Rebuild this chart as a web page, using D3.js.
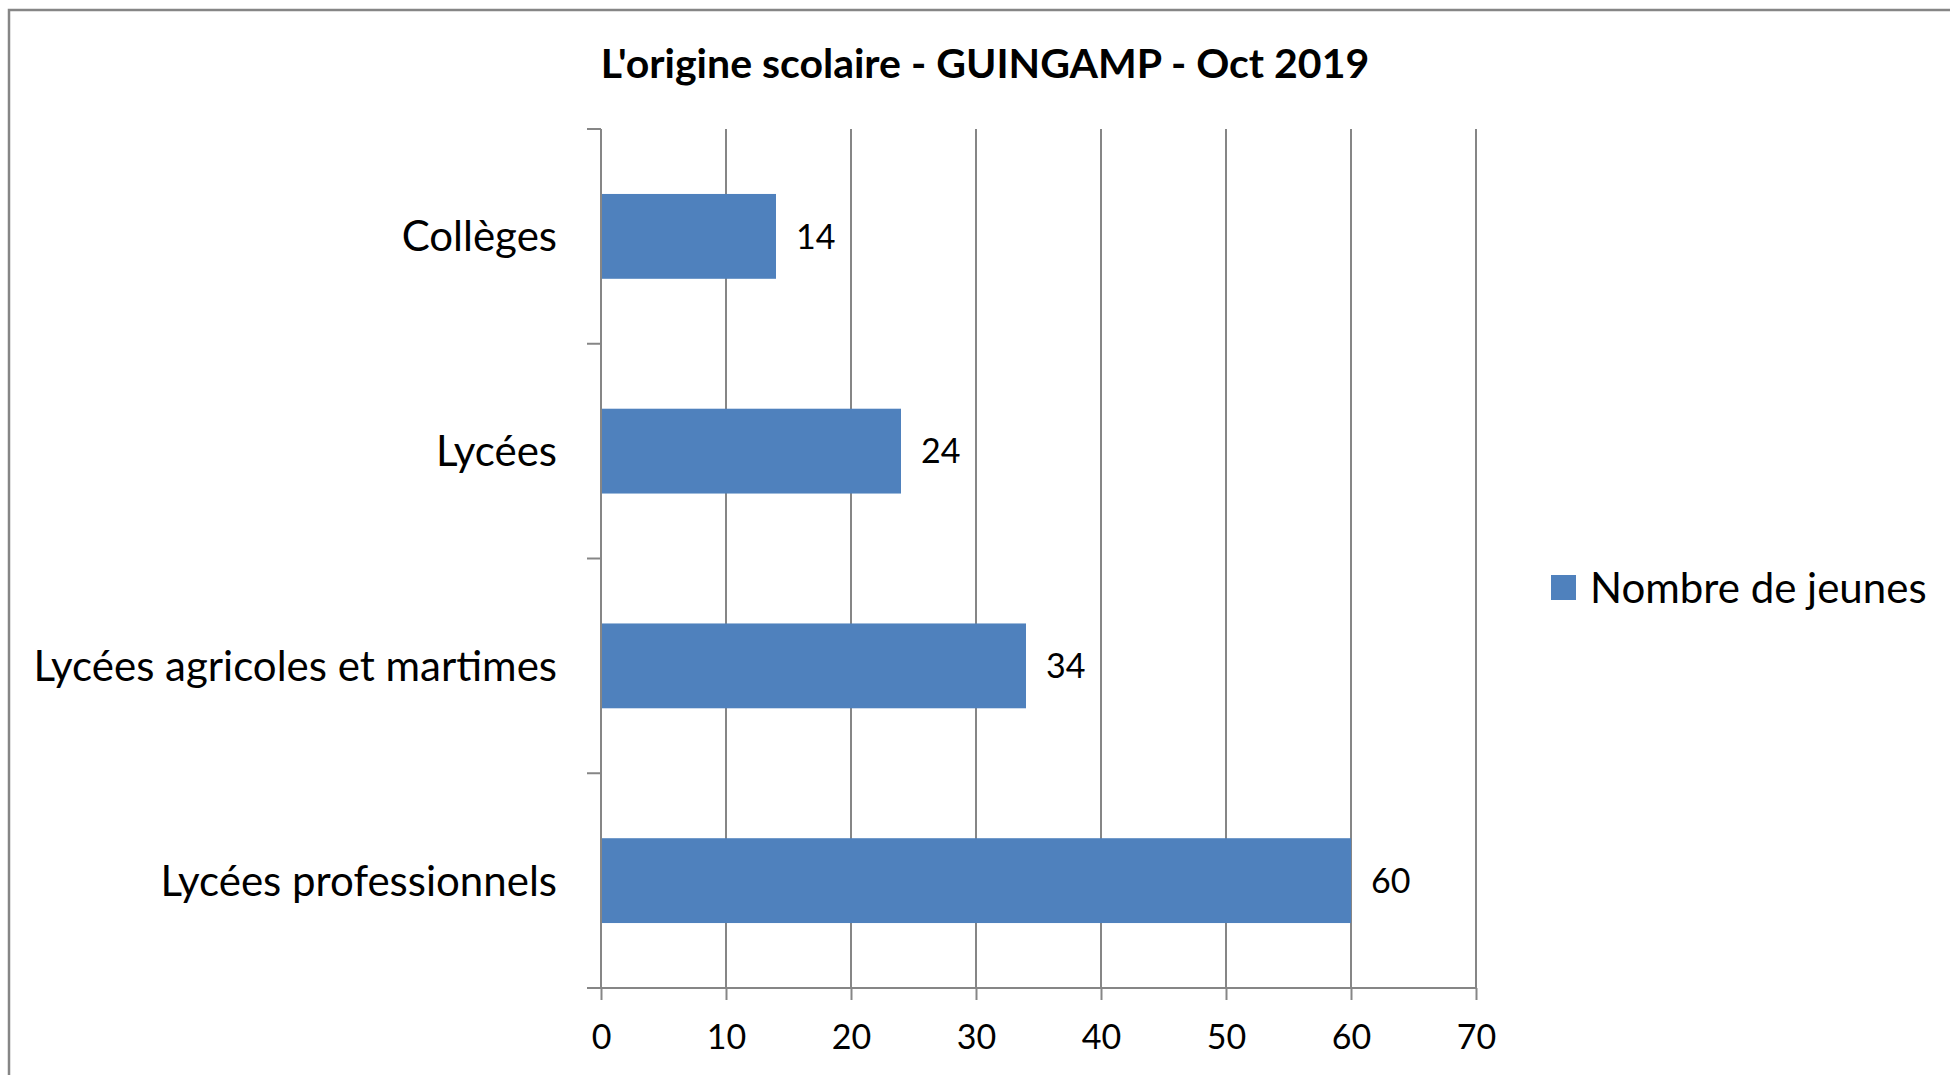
<!DOCTYPE html>
<html>
<head>
<meta charset="utf-8">
<script src="https://cdn.jsdelivr.net/npm/d3@7"></script>
<style>
  body { margin: 0; background: #fff; }
  svg text { font-family: Lato, "Open Sans", sans-serif; fill: #000; }
</style>
</head>
<body>
<svg id="chart" width="1950" height="1075"></svg>
<script>
// data
const categories = ["Collèges", "Lycées", "Lycées agricoles et martimes", "Lycées professionnels"];
const values = [14, 24, 34, 60];
const xTicks = [0, 10, 20, 30, 40, 50, 60, 70];
const seriesName = "Nombre de jeunes";
const title = "L'origine scolaire - GUINGAMP - Oct 2019";

const W = 1950, H = 1075;
const plot = {left: 601, right: 1476, top: 129, bottom: 988};
const barColor = "#4f81bd";
const lineColor = "#868686";

let svg = d3.select("#chart");

// frame (only top and left edges show)
svg.append("rect")
  .attr("x", 9).attr("y", 10)
  .attr("width", W + 20).attr("height", H + 20)
  .attr("fill", "#fff")
  .attr("stroke", lineColor)
  .attr("stroke-width", 2.5);

let x = d3.scaleLinear().domain([0, 70]).range([plot.left, plot.right]);
let y = d3.scaleBand().domain(categories).range([plot.top, plot.bottom]).paddingInner(0.605).paddingOuter(0.3025);
let band = d3.scaleBand().domain(categories).range([plot.top, plot.bottom]);

// vertical gridlines
svg.append("g")
  .selectAll("line")
  .data(xTicks.slice(1))
  .enter()
  .append("line")
  .attr("x1", d => x(d)).attr("x2", d => x(d))
  .attr("y1", plot.top).attr("y2", plot.bottom)
  .attr("stroke", lineColor).attr("stroke-width", 2);

// bars
svg.append("g")
  .selectAll("rect")
  .data(values)
  .enter()
  .append("rect")
  .attr("x", x(0))
  .attr("y", (d, i) => y(categories[i]))
  .attr("width", d => x(d) - x(0))
  .attr("height", y.bandwidth())
  .attr("fill", barColor);

// x axis
let xAxis = svg.append("g")
  .attr("transform", "translate(0," + plot.bottom + ")")
  .call(d3.axisBottom(x).tickValues(xTicks).tickSize(12).tickPadding(25).tickSizeOuter(0));
xAxis.select(".domain").attr("stroke", lineColor).attr("stroke-width", 2)
  .attr("d", "M" + (plot.left - 14) + ",0H" + plot.right);
xAxis.selectAll(".tick line").attr("stroke", lineColor).attr("stroke-width", 2);
xAxis.selectAll(".tick text").style("font-size", "34px").attr("fill", "#000")
  .attr("dy", "0.71em");

// y axis with ticks between categories
let yAxis = svg.append("g")
  .attr("transform", "translate(" + plot.left + ",0)");
yAxis.append("line")
  .attr("x1", 0).attr("x2", 0)
  .attr("y1", plot.top).attr("y2", plot.bottom)
  .attr("stroke", lineColor).attr("stroke-width", 2);
yAxis.selectAll("line.tk")
  .data(categories)
  .enter()
  .append("line")
  .attr("class", "tk")
  .attr("x1", -14).attr("x2", 0)
  .attr("y1", d => band(d)).attr("y2", d => band(d))
  .attr("stroke", lineColor).attr("stroke-width", 2);
yAxis.selectAll("text")
  .data(categories)
  .enter()
  .append("text")
  .attr("x", -44)
  .attr("y", d => band(d) + band.bandwidth() / 2)
  .attr("dy", "0.36em")
  .attr("text-anchor", "end")
  .style("font-size", "42px")
  .text(d => d);

// value labels
svg.append("g")
  .selectAll("text")
  .data(values)
  .enter()
  .append("text")
  .attr("x", d => x(d) + 20)
  .attr("y", (d, i) => band(categories[i]) + band.bandwidth() / 2)
  .attr("dy", "0.36em")
  .style("font-size", "34px")
  .text(d => d);

// title
svg.append("text")
  .attr("x", 985).attr("y", 78)
  .attr("text-anchor", "middle")
  .style("font-size", "41px")
  .style("font-weight", "bold")
  .text(title);

// legend
let legend = svg.append("g").attr("transform", "translate(1551,575)");
legend.append("rect").attr("width", 25).attr("height", 25).attr("fill", barColor);
legend.append("text")
  .attr("x", 39).attr("y", 12.5)
  .attr("dy", "0.36em")
  .style("font-size", "42px")
  .text(seriesName);
</script>
</body>
</html>
